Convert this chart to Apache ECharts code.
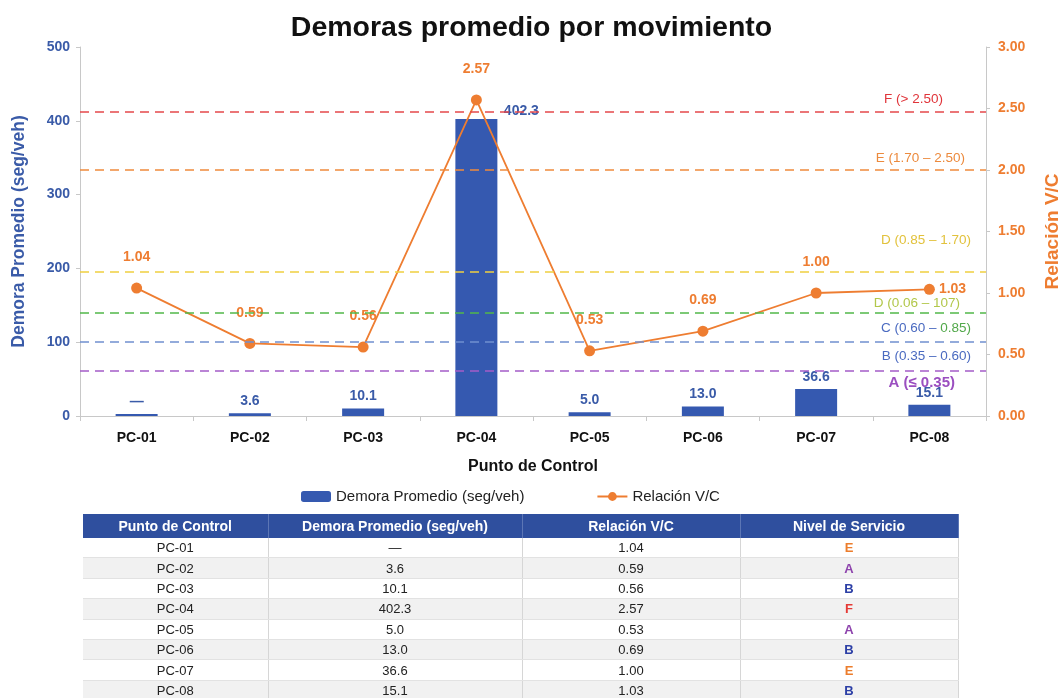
<!DOCTYPE html>
<html>
<head>
<meta charset="utf-8">
<script src="https://cdn.jsdelivr.net/npm/echarts@6/dist/echarts.min.js"></script>
<style>
  html, body { margin: 0; padding: 0; background: #fff; }
  #wrap { position: relative; width: 1063px; height: 698px; overflow: hidden; }
  #chart { position: absolute; left: 0; top: 0; width: 1063px; height: 698px; }
  #tbl { position: absolute; left: 83px; top: 514px; width: 875px; border-collapse: collapse;
    font-family: "Liberation Sans", Arial, sans-serif; font-size: 13px; color: #222; table-layout: fixed; }
  #tbl th { background: #2f4f9e; color: #fff; font-weight: bold; font-size: 14px; height: 24px; padding: 0;
    border-right: 1px solid #5c76b5; }
  #tbl td { height: 19.4px; padding: 0; text-align: center; border-right: 1px solid #d6d6d6;
    border-bottom: 1px solid #e2e2e2; line-height: 19px; }
  #tbl tr:nth-child(odd) td { background: #f1f1f1; }
  #tbl td.los { font-weight: bold; }
</style>
</head>
<body>
<div id="wrap">
  <div id="chart"></div>
  <table id="tbl"></table>
</div>
<script>
// datos
var puntos = ['PC-01', 'PC-02', 'PC-03', 'PC-04', 'PC-05', 'PC-06', 'PC-07', 'PC-08'];
var demora = [null, 3.6, 10.1, 402.3, 5.0, 13.0, 36.6, 15.1];
var relacionVC = [1.04, 0.59, 0.56, 2.57, 0.53, 0.69, 1.00, 1.03];
var nivel = ['E', 'A', 'B', 'F', 'A', 'B', 'E', 'B'];
var colorNivel = { A: '#8e44ad', B: '#2c3fa6', C: '#4a6ac0', D: '#d9b52c', E: '#ec7d2c', F: '#e53935' };

// lineas de umbral (eje V/C)
var umbralValor = [2.47, 2.00, 1.17, 0.84, 0.60, 0.37];
var umbralColor = ['#e5484b', '#ef8a3c', '#f0d040', '#52b84a', '#7090d0', '#a45cc8'];
var umbralTexto = ['F (> 2.50)', 'E (1.70 – 2.50)', 'D (0.85 – 1.70)', 'D (0.06 – 107)', '{b|C (0.60 –} {g|0.85)}', 'B (0.35 – 0.60)'];
var umbralTextoColor = ['#e0343a', '#ec8a3d', '#e2c23c', '#b2c74a', '#4a6ac0', '#4a6ac0'];

var blue = '#3559b0';
var blueText = '#3a5ba8';
var orange = '#ee7d31';

var chart = echarts.init(document.getElementById('chart'));

var lineDist = [[43, 6], [21, 5], [15, 25], [26, 2], [15, 7], [15, 7]];
var markData = umbralValor.map(function (v, i) {
  return {
    yAxis: v,
    lineStyle: { color: umbralColor[i], type: [9, 6], width: 1.5 },
    label: {
      show: true,
      position: 'insideEndTop',
      distance: lineDist[i],
      formatter: umbralTexto[i],
      color: umbralTextoColor[i],
      fontSize: 13.5,
      rich: {
        b: { color: '#4a6ac0', fontSize: 13.5 },
        g: { color: '#52a84a', fontSize: 13.5 }
      }
    }
  };
});
// etiqueta A bajo la linea morada
markData.push({
  yAxis: umbralValor[5],
  lineStyle: { color: 'rgba(0,0,0,0)', width: 0 },
  label: {
    show: true, position: 'insideEndBottom', distance: [31, 5],
    formatter: 'A (≤ 0.35)', color: '#9b4fc0', fontSize: 15, fontWeight: 'bold'
  }
});

var barData = demora.map(function (v, i) {
  if (v == null) return { value: 0, label: { formatter: '—' } };
  if (i === 3) return { value: v, label: { offset: [45, 4] } };
  return v;
});

var lineData = relacionVC.map(function (v, i) {
  if (i === 7) return { value: v, label: { position: 'right', distance: 4 } };
  return v;
});

var option = {
  backgroundColor: '#fff',
  textStyle: { fontFamily: 'Liberation Sans, Arial, sans-serif' },
  title: {
    text: 'Demoras promedio por movimiento',
    left: 'center', top: 9,
    textStyle: { fontSize: 28.5, fontWeight: 'bold', color: '#111' }
  },
  legend: {
    top: 484, left: 296, itemGap: 72, itemWidth: 30, itemHeight: 11,
    textStyle: { fontSize: 15, color: '#222' },
    data: ['Demora Promedio (seg/veh)', 'Relación V/C']
  },
  grid: { left: 80, right: 77, top: 47, bottom: 282, outerBoundsMode: 'none', containLabel: false },
  xAxis: {
    type: 'category',
    data: puntos,
    name: 'Punto de Control',
    nameLocation: 'middle',
    nameGap: 43,
    nameTextStyle: { fontSize: 16, fontWeight: 'bold', color: '#111' },
    axisLine: { lineStyle: { color: '#c8c8c8' } },
    axisTick: { show: true, length: 5, lineStyle: { color: '#c8c8c8' } },
    axisLabel: { fontSize: 14, fontWeight: 'bold', color: '#111', margin: 15 }
  },
  yAxis: [{
    type: 'value', min: 0, max: 500, interval: 100,
    name: 'Demora Promedio (seg/veh)',
    nameLocation: 'middle', nameRotate: 90, nameGap: 52,
    nameTextStyle: { fontSize: 17.5, fontWeight: 'bold', color: blueText },
    axisLine: { show: true, lineStyle: { color: '#c8c8c8' } },
    axisTick: { show: true, length: 4, lineStyle: { color: '#c8c8c8' } },
    axisLabel: { fontSize: 14, fontWeight: 'bold', color: blueText, margin: 10 },
    splitLine: { show: false }
  }, {
    type: 'value', min: 0, max: 3, interval: 0.5,
    name: 'Relación V/C',
    nameLocation: 'middle', nameRotate: 90, nameGap: 57,
    nameTextStyle: { fontSize: 19, fontWeight: 'bold', color: orange },
    axisLine: { show: true, lineStyle: { color: '#c8c8c8' } },
    axisTick: { show: true, length: 4, lineStyle: { color: '#c8c8c8' } },
    axisLabel: {
      fontSize: 14, fontWeight: 'bold', color: orange, margin: 12,
      formatter: function (v) { return v.toFixed(2); }
    },
    splitLine: { show: false }
  }],
  series: [{
    name: 'Demora Promedio (seg/veh)',
    type: 'bar',
    data: barData,
    barWidth: 42,
    barMinHeight: 2,
    itemStyle: { color: blue },
    label: {
      show: true, position: 'top', distance: 5,
      fontSize: 14, fontWeight: 'bold', color: blueText,
      formatter: function (p) { return p.value.toFixed(1); }
    },
    z: 2
  }, {
    name: 'Relación V/C',
    type: 'line',
    yAxisIndex: 1,
    data: lineData,
    symbol: 'circle',
    symbolSize: 11,
    itemStyle: { color: orange },
    lineStyle: { color: orange, width: 1.8 },
    label: {
      show: true, position: 'top', distance: 18,
      fontSize: 14, fontWeight: 'bold', color: orange,
      formatter: function (p) { return p.value.toFixed(2); }
    },
    markLine: {
      silent: true,
      symbol: 'none',
      data: markData
    },
    z: 3
  }]
};
chart.setOption(option);

// tabla
var html = '<colgroup><col style="width:185px"><col style="width:254px"><col style="width:218px"><col style="width:218px"></colgroup>';
html += '<tr><th>Punto de Control</th><th>Demora Promedio (seg/veh)</th><th>Relación V/C</th><th>Nivel de Servicio</th></tr>';
for (var i = 0; i < puntos.length; i++) {
  html += '<tr><td>' + puntos[i] + '</td><td>' + (demora[i] == null ? '—' : demora[i].toFixed(1)) +
    '</td><td>' + relacionVC[i].toFixed(2) + '</td><td class="los" style="color:' + colorNivel[nivel[i]] + '">' +
    nivel[i] + '</td></tr>';
}
document.getElementById('tbl').innerHTML = html;
</script>
</body>
</html>
